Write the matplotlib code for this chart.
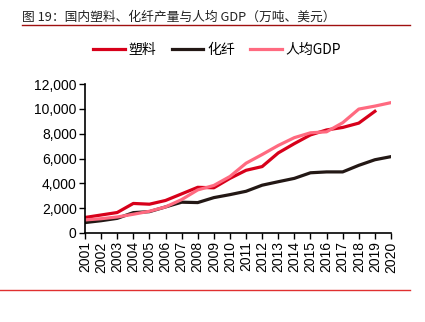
import matplotlib.pyplot as plt
import numpy as np

plt.rcParams['font.family'] = ['Liberation Sans', 'Noto Sans CJK SC', 'DejaVu Sans']

# Data
years = list(range(2001, 2021))
plastic = [1250, 1450, 1650, 2380, 2320, 2620, 3150, 3680, 3640, 4400,
           5050, 5350, 6450, 7200, 7900, 8300, 8500, 8850, 9800]
fiber = [840, 990, 1180, 1640, 1720, 2100, 2480, 2450, 2850, 3090,
         3360, 3850, 4130, 4400, 4850, 4920, 4920, 5450, 5900, 6150]
gdp = [1050, 1150, 1290, 1510, 1750, 2100, 2690, 3470, 3830, 4550,
       5620, 6320, 7050, 7680, 8070, 8150, 8880, 9980, 10220, 10500]

fig = plt.figure(figsize=(4.25, 3.22), dpi=100)
ax = fig.add_axes([85/425, 1-233/322, 306/425, 149/322])

ax.plot(years[:len(plastic)], plastic, color='#D7001A', lw=2.3, label='塑料')
ax.plot(years, fiber, color='#231815', lw=2.3, label='化纤')
ax.plot(years, gdp, color='#FF6A80', lw=2.3, label='人均GDP')

ax.set_xlim(2001, 2020)
ax.set_ylim(0, 12000)
ax.set_xticks(years)
ax.set_xticklabels([str(y) for y in years], rotation=90, fontsize=10)
ax.set_yticks(np.arange(0, 12001, 2000))
ax.set_yticklabels([f'{v:,}' for v in range(0, 12001, 2000)], fontsize=10)
ax.tick_params(length=4, width=1, pad=2)
for s in ['top', 'right']:
    ax.spines[s].set_visible(False)
for s in ['left', 'bottom']:
    ax.spines[s].set_linewidth(1.2)

leg = ax.legend(loc='center', bbox_to_anchor=(217/425, 1-50/322),
                bbox_transform=fig.transFigure, ncol=3, frameon=False,
                handlelength=2.3, handletextpad=0.25, columnspacing=1.1,
                prop={'family': ['Noto Sans CJK SC'], 'size': 10})

# title and rules
fig.text(22/425, 1-17/322, '图 19：国内塑料、化纤产量与人均 GDP（万吨、美元）',
         fontsize=9.2, va='center', ha='left', color='#222222',
         family=['Noto Sans CJK SC'])
fig.add_artist(plt.Line2D([22/425, 410/425], [1-25/322, 1-25/322],
                          color='#A01010', lw=1.0))
fig.add_artist(plt.Line2D([0, 410/425], [1-290/322, 1-290/322],
                          color='#E03030', lw=1.0))

fig.savefig('out.png', dpi=100)
